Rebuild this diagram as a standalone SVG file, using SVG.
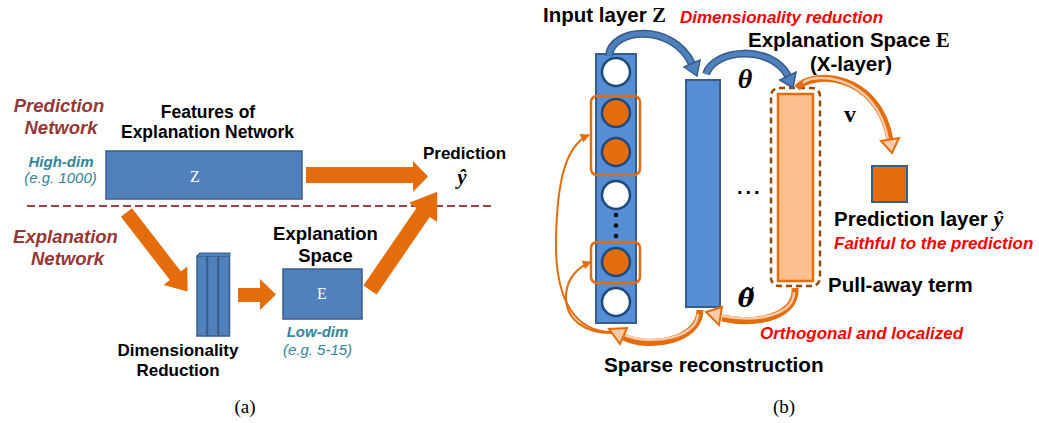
<svg xmlns="http://www.w3.org/2000/svg" width="1039" height="423" viewBox="0 0 1039 423">
  <defs>
    <style>
      .lbl { font-family: "Liberation Sans", Arial, sans-serif; font-weight: bold; fill: #000; }
      .net { font-family: "Liberation Sans", Arial, sans-serif; font-weight: bold; font-style: italic; fill: #953735; font-size: 18.5px; }
      .dimb { font-family: "Liberation Sans", Arial, sans-serif; font-weight: bold; font-style: italic; fill: #31859C; font-size: 15px; }
      .dimr { font-family: "Liberation Sans", Arial, sans-serif; font-style: italic; fill: #31859C; font-size: 15px; }
      .red { font-family: "Liberation Sans", Arial, sans-serif; font-weight: bold; font-style: italic; fill: #FF0000; font-size: 17px; }
      .math { font-family: "Liberation Serif", "DejaVu Serif", serif; font-style: italic; }
      .mbold { font-family: "Liberation Serif", "DejaVu Serif", serif; font-weight: bold; }
      .cap { font-family: "Liberation Serif", "DejaVu Serif", serif; font-size: 19px; fill: #000; }
      .blk { fill: #4F81BD; stroke: #385D8A; stroke-width: 1.5; }
      .col { fill: #558ED5; stroke: #385D8A; stroke-width: 2; }
      .fat { fill: #E46C0A; }
      .wn { fill: #fff; stroke: #1F497D; stroke-width: 2.5; }
      .on { fill: #E46C0A; stroke: #1F497D; stroke-width: 2.5; }
      .sel { fill: none; stroke: #E46C0A; stroke-width: 2.5; }
      .thin { fill: none; stroke: #E46C0A; stroke-width: 2; }
      .bout { fill: none; stroke: #385D8A; stroke-width: 8; }
      .bin { fill: none; stroke: #4F81BD; stroke-width: 5; }
      .bhead { fill: #4F81BD; stroke: #385D8A; stroke-width: 1.5; }
      .oout { fill: none; stroke: #E46C0A; stroke-width: 7; }
      .oin { fill: none; stroke: #F8CBAD; stroke-width: 2.5; }
      .ohead { fill: #F8CBAD; stroke: #E46C0A; stroke-width: 2; }
    </style>
    <marker id="tip" viewBox="0 0 10 10" refX="9" refY="5" markerWidth="9" markerHeight="9" markerUnits="userSpaceOnUse" orient="auto">
      <path d="M0,0 L10,5 L0,10 z" fill="#E46C0A"/>
    </marker>
  </defs>

  <rect width="1039" height="423" fill="#fff"/>

  <!-- ===================== (a) ===================== -->
  <g id="a-labels">
    <text class="net" x="59" y="112" text-anchor="middle" font-size="19">Prediction</text>
    <text class="net" x="61" y="134" text-anchor="middle" font-size="19">Network</text>
    <text class="net" x="65.5" y="243" text-anchor="middle">Explanation</text>
    <text class="net" x="67.5" y="265" text-anchor="middle">Network</text>
    <text class="dimb" x="61" y="167" text-anchor="middle">High-dim</text>
    <text class="dimr" x="60.5" y="183" text-anchor="middle">(e.g. 1000)</text>
  </g>

  <line id="separator" x1="27" y1="206" x2="493" y2="206" stroke="#A0413F" stroke-width="2" stroke-dasharray="8,4"/>

  <g id="features-z">
    <text class="lbl" x="208" y="118" text-anchor="middle" font-size="17.5">Features of</text>
    <text class="lbl" x="207.5" y="138" text-anchor="middle" font-size="17.5">Explanation Network</text>
    <rect class="blk" x="106" y="151" width="196" height="48"/>
    <text x="195" y="182" text-anchor="middle" font-family="Liberation Serif, serif" font-size="16" fill="#fff">Z</text>
  </g>

  <g id="dim-reduction">
    <rect class="blk" x="197" y="256" width="10" height="80"/>
    <rect class="blk" x="207.5" y="256" width="10.5" height="80"/>
    <rect class="blk" x="218.5" y="256" width="11" height="80"/>
    <path d="M197,256 L200,253 L230,253 L229.5,256" fill="#4F81BD" stroke="#385D8A" stroke-width="1.2"/>
    <text class="lbl" x="178" y="356" text-anchor="middle" font-size="17">Dimensionality</text>
    <text class="lbl" x="178" y="376" text-anchor="middle" font-size="17">Reduction</text>
  </g>

  <g id="explanation-e">
    <text class="lbl" x="325.5" y="240" text-anchor="middle" font-size="18.5">Explanation</text>
    <text class="lbl" x="325.5" y="262" text-anchor="middle" font-size="18.5">Space</text>
    <rect class="blk" x="283" y="269" width="79" height="50"/>
    <text x="322" y="299" text-anchor="middle" font-family="Liberation Serif, serif" font-size="16" fill="#fff">E</text>
    <text class="dimb" x="317.5" y="337" text-anchor="middle">Low-dim</text>
    <text class="dimr" x="317.5" y="355" text-anchor="middle">(e.g. 5-15)</text>
  </g>

  <g id="prediction-a">
    <text class="lbl" x="464.5" y="159" text-anchor="middle" font-size="17">Prediction</text>
    <text class="math" x="462" y="184" text-anchor="middle" font-size="21" font-weight="bold">ŷ</text>
  </g>

  <g id="a-connectors">
    <polygon class="fat" points="306,167 413,167 413,161 428,176.5 413,192 413,183 306,183"/>
    <polygon class="fat" transform="translate(126.5,212.5) rotate(52.3)" points="0,-7 80,-7 80,-15 100,0 80,15 80,7 0,7"/>
    <polygon class="fat" points="238,288 260,288 260,279 276,294.5 260,310 260,302 238,302"/>
    <polygon class="fat" transform="translate(370,290) rotate(-55.6)" points="0,-8 94,-8 94,-17 119,0 94,17 94,8 0,8"/>
  </g>

  <text class="cap" x="245" y="413" text-anchor="middle">(a)</text>

  <!-- ===================== (b) ===================== -->
  <g id="input-layer">
    <text class="lbl" x="543" y="22" font-size="20.5">Input layer <tspan class="mbold">Z</tspan></text>
    <rect class="col" x="596" y="54" width="40" height="269"/>
    <circle class="wn" cx="616" cy="72" r="14"/>
    <circle class="on" cx="616" cy="113" r="14"/>
    <circle class="on" cx="616" cy="152" r="14"/>
    <circle class="wn" cx="616" cy="195" r="14"/>
    <circle cx="616" cy="215" r="2.2" fill="#000"/>
    <circle cx="616" cy="225.5" r="2.2" fill="#000"/>
    <circle cx="616" cy="236" r="2.2" fill="#000"/>
    <circle class="on" cx="616" cy="262" r="14"/>
    <circle class="wn" cx="616" cy="302" r="14"/>
    <rect class="sel" x="591" y="96" width="49" height="79" rx="6"/>
    <rect class="sel" x="591" y="242" width="49" height="41" rx="6"/>
  </g>

  <g id="hidden-layer">
    <rect class="col" x="686" y="80" width="34" height="227"/>
    <text class="lbl" x="737" y="194" font-size="20" letter-spacing="3">...</text>
  </g>

  <g id="explanation-space">
    <text class="lbl" x="748" y="47" font-size="20.5">Explanation Space <tspan class="mbold">E</tspan></text>
    <text class="lbl" x="851" y="71" text-anchor="middle" font-size="20.5">(X-layer)</text>
    <rect x="771" y="88" width="49" height="198" rx="8" fill="none" stroke="#984807" stroke-width="2.5" stroke-dasharray="6,4"/>
    <rect x="778" y="94" width="35" height="187" fill="#FAC090" stroke="#E46C0A" stroke-width="2.5"/>
    <text class="lbl" x="828" y="292" font-size="20.5">Pull-away term</text>
  </g>

  <g id="prediction-layer">
    <rect x="872" y="166" width="35" height="36" fill="#E46C0A" stroke="#385D8A" stroke-width="2"/>
    <text class="lbl" x="834" y="226" font-size="20.5">Prediction layer <tspan class="math" font-weight="bold" font-size="22">ŷ</tspan></text>
    <text class="red" x="834" y="249">Faithful to the prediction</text>
  </g>

  <g id="b-labels">
    <text class="red" x="680" y="23" font-size="16.5">Dimensionality reduction</text>
    <text class="math" x="745" y="88" text-anchor="middle" font-size="28" font-weight="bold">θ</text>
    <text class="mbold" x="850" y="122" text-anchor="middle" font-size="24">v</text>
    <text x="746" y="307" text-anchor="middle" font-family="DejaVu Serif, serif" font-style="italic" font-weight="bold" font-size="25">θ̃</text>
    <text class="red" x="760" y="339">Orthogonal and localized</text>
    <text class="lbl" x="604" y="372" font-size="20.7">Sparse reconstruction</text>
  </g>

  <g id="b-connectors">
    <!-- Z to hidden layer -->
    <path class="bout" d="M609,56 C611,28 672,22 692,64"/>
    <path class="bin" d="M609,56 C611,28 672,22 692,64"/>
    <polygon class="bhead" points="684,67 700,60 697,76"/>
    <!-- hidden layer to explanation space -->
    <path class="bout" d="M706,74 C715,48 772,45 788,76"/>
    <path class="bin" d="M706,74 C715,48 772,45 788,76"/>
    <polygon class="bhead" points="780,80 796,72 793,88"/>
    <!-- explanation space to prediction -->
    <path class="oout" d="M797,88 C812,70 878,72 890,140"/>
    <path class="oin" d="M803,83 C815,72 876,75 888,139"/>
    <polygon class="ohead" points="881,141 899,138 892,153"/>
    <!-- decoder back to hidden layer -->
    <path class="oout" d="M795,288 C797,315 760,326 722,318"/>
    <path class="oin" d="M794,292 C794,314 760,323 722,316"/>
    <polygon class="ohead" points="722,307 719,325 706,312"/>
    <!-- decoder back to input layer -->
    <path class="oout" d="M700,310 C700,340 650,350 624,337"/>
    <path class="oin" d="M698,314 C697,338 652,346 624,335"/>
    <polygon class="ohead" points="627,328 620,344 609,329"/>
    <!-- sparse links to the selected inputs -->
    <path class="thin" d="M612,332 C575,332 555,300 556,240 C557,180 566,145 589,135" marker-end="url(#tip)"/>
    <path class="thin" d="M612,333 C585,333 565,320 566,295 C567,278 578,267 591,262" marker-end="url(#tip)"/>
  </g>

  <text class="cap" x="784" y="413" text-anchor="middle">(b)</text>
</svg>
